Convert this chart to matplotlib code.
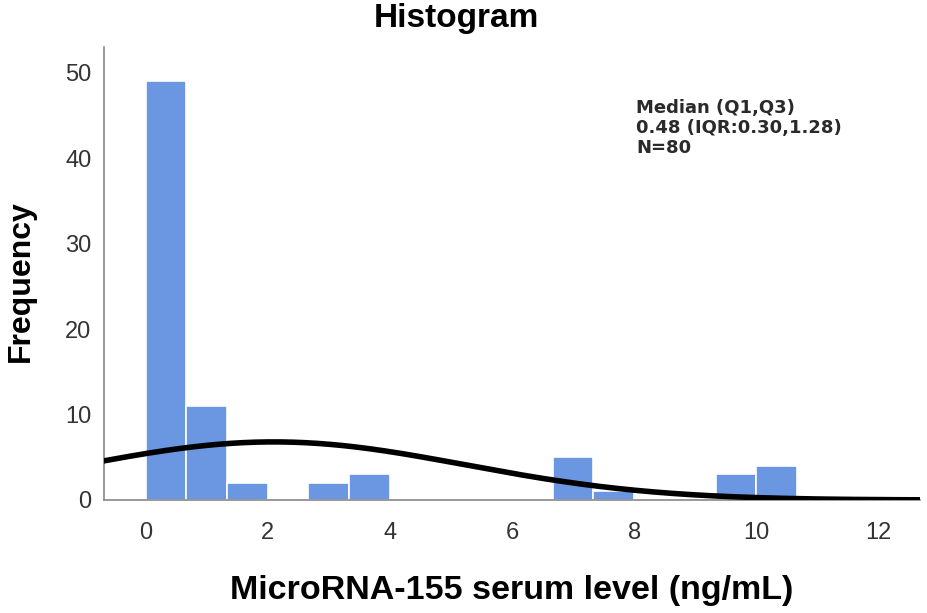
"""
Histogram of MicroRNA-155 serum level with fitted normal curve.
"""
import matplotlib
matplotlib.use("Agg")
import matplotlib.pyplot as plt
import numpy as np

plt.rcParams["font.family"] = ["Liberation Sans", "DejaVu Sans"]

# bins of width 2/3
bin_width = 2 / 3
bin_left = np.arange(16) * bin_width
counts = [49, 11, 2, 0, 2, 3, 0, 0, 0, 0, 5, 1, 0, 0, 3, 4]

# normal curve parameters (approx.)
mu, sigma, n = 2.1, 3.13, 80

x_ticks = [0, 2, 4, 6, 8, 10, 12]
y_ticks = [0, 10, 20, 30, 40, 50]

fig = plt.figure(figsize=(9.27, 6.13), dpi=100)
ax = fig.add_axes([104 / 927, 1 - 500 / 613, 816 / 927, 453 / 613])

ax.bar(bin_left, counts, width=bin_width, align="edge",
       color="#6a96e2", edgecolor="white", linewidth=1.2, zorder=2)

xs = np.linspace(-0.7, 12.8, 400)
pdf = n * bin_width / (sigma * np.sqrt(2 * np.pi)) * np.exp(-0.5 * ((xs - mu) / sigma) ** 2)
ax.plot(xs, pdf, color="black", linewidth=4, zorder=3, solid_capstyle="butt")

ax.set_xlim(-0.68, 12.68)
ax.set_ylim(0, 53)
ax.set_xticks(x_ticks)
ax.set_yticks(y_ticks)
ax.tick_params(length=0, labelsize=17, colors="#333333")
ax.tick_params(axis="x", pad=16)
ax.tick_params(axis="y", pad=9)

for side in ("top", "right"):
    ax.spines[side].set_visible(False)
for side in ("left", "bottom"):
    ax.spines[side].set_color("#888888")
    ax.spines[side].set_linewidth(1.2)

fig.text(456 / 927, 1 - 18 / 613, "Histogram", ha="center", va="center",
         fontsize=24, fontweight="bold")
fig.text(512 / 927, 1 - 590 / 613, "MicroRNA-155 serum level (ng/mL)",
         ha="center", va="center", fontsize=24.5, fontweight="bold")
fig.text(21 / 927, 1 - 281 / 613, "Frequency", ha="center", va="center",
         rotation=90, fontsize=23, fontweight="bold")

ax.text(636 / 927, 1 - 99 / 613, "Median (Q1,Q3)\n0.48 (IQR:0.30,1.28)\nN=80",
        transform=fig.transFigure, ha="left", va="top", fontsize=13,
        fontweight="bold", color="#2a2a2a", family="DejaVu Sans", linespacing=1.15)

fig.savefig("out.png", dpi=100)
